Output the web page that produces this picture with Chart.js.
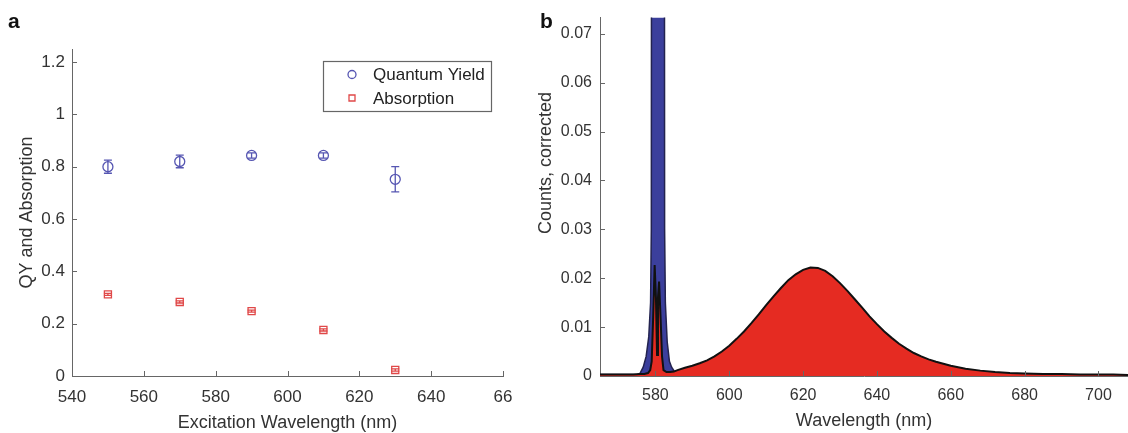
<!DOCTYPE html>
<html>
<head>
<meta charset="utf-8">
<script src="https://cdn.jsdelivr.net/npm/chart.js@4.4.0/dist/chart.umd.min.js"></script>
<style>
body { margin:0; background:#fff; width:1128px; height:433px; position:relative; overflow:hidden; font-family:"Liberation Sans", Arial, sans-serif; }
#chartA { position:absolute; left:0; top:0; }
#chartB { position:absolute; left:530px; top:0; }
.panel { position:absolute; font-weight:bold; font-size:21px; line-height:24px; color:#111; }
</style>
</head>
<body>
<canvas id="chartA" width="530" height="433"></canvas>
<canvas id="chartB" width="598" height="433"></canvas>
<div class="panel" style="left:8px; top:9px;">a</div>
<div class="panel" style="left:540px; top:9px;">b</div>
<script>
// panel a - quantum yield / absorption vs excitation wavelength
const excitation = [550, 570, 590, 610, 630];
const qy = [0.80, 0.82, 0.843, 0.843, 0.752];
const qyErr = [0.025, 0.024, 0.01, 0.01, 0.048];
const absorption = [0.312, 0.283, 0.248, 0.176, 0.023];
const absErr = [0.004, 0.004, 0.004, 0.004, 0.004];
const xTicksA = [540, 560, 580, 600, 620, 640, 660];
const xLabelsA = ["540", "560", "580", "600", "620", "640", "66"];
const yTicksA = [0, 0.2, 0.4, 0.6, 0.8, 1, 1.2];
const yLabelsA = ["0", "0.2", "0.4", "0.6", "0.8", "1", "1.2"];

// panel b - emission spectrum (sample, red) and excitation peak (blue)
const specWl = [565, 568, 571, 574, 576, 577, 578, 578.6, 579.0, 579.4, 579.8, 580.15, 580.45, 580.7, 581.0, 581.4, 581.8, 582.2, 583, 584, 585, 586, 588, 590, 592, 594, 596, 598, 600, 602, 604, 606, 608, 610, 612, 614, 616, 618, 620, 622, 624, 626, 628, 630, 632, 634, 636, 638, 640, 642, 644, 646, 648, 650, 652, 654, 656, 658, 660, 664, 668, 672, 676, 680, 685, 690, 695, 700, 704, 708];
const specCounts = [0.0003, 0.0003, 0.0003, 0.0003, 0.0004, 0.0004, 0.0006, 0.0012, 0.003, 0.012, 0.0227, 0.016, 0.0043, 0.016, 0.0193, 0.012, 0.004, 0.0012, 0.0008, 0.0008, 0.0009, 0.0012, 0.0017, 0.0021, 0.0026, 0.0032, 0.004, 0.005, 0.0062, 0.0076, 0.0091, 0.0108, 0.0126, 0.0145, 0.0163, 0.018, 0.0196, 0.0208, 0.0217, 0.0222, 0.0221, 0.0215, 0.0204, 0.019, 0.0174, 0.0157, 0.014, 0.0122, 0.0106, 0.0091, 0.0078, 0.0066, 0.0056, 0.0047, 0.004, 0.0034, 0.0029, 0.0025, 0.0021, 0.0015, 0.0011, 0.0008, 0.0006, 0.0005, 0.0004, 0.0004, 0.0003, 0.0003, 0.0003, 0.0002];
const refWl = [565, 575, 575.8, 576.7, 577.5, 578.2, 578.7, 578.9, 579.1, 582.3, 582.5, 582.7, 583.2, 583.8, 584.4, 585.3, 586, 708];
const refCounts = [0.0003, 0.0003, 0.0005, 0.0018, 0.004, 0.008, 0.015, 0.03, 0.3, 0.3, 0.03, 0.015, 0.007, 0.003, 0.0018, 0.0008, 0.0006, 0.0002];
const xTicksB = [580, 600, 620, 640, 660, 680, 700];
const yTicksB = [0, 0.01, 0.02, 0.03, 0.04, 0.05, 0.06, 0.07];

const qyColor = "#5656b2";
const absColor = "#e04848";
const axisColor = "#666";
const textColor = "#333";
const fontFam = "'Liberation Sans', Arial, sans-serif";

// ticks drawn inside the axes, like the original figure
const inwardTicks = {
    id: "inwardTicks",
    afterDatasetsDraw(chart, args, opts) {
        const {ctx, chartArea, scales} = chart;
        const len = opts.length || 5;
        ctx.save();
        ctx.strokeStyle = axisColor;
        ctx.lineWidth = 1;
        scales.x.ticks.forEach(t => {
            const px = Math.round(scales.x.getPixelForValue(t.value)) + 0.5;
            ctx.beginPath();
            ctx.moveTo(px, chartArea.bottom);
            ctx.lineTo(px, chartArea.bottom - len);
            ctx.stroke();
        });
        scales.y.ticks.forEach(t => {
            const py = Math.round(scales.y.getPixelForValue(t.value)) + 0.5;
            ctx.beginPath();
            ctx.moveTo(chartArea.left, py);
            ctx.lineTo(chartArea.left + len, py);
            ctx.stroke();
        });
        ctx.restore();
    }
};

const errorBars = {
    id: "errorBars",
    afterDatasetsDraw(chart) {
        const {ctx, scales: {x, y}} = chart;
        ctx.save();
        ctx.lineWidth = 1.3;
        [[qy, qyErr, qyColor], [absorption, absErr, absColor]].forEach(([vals, errs, col]) => {
            ctx.strokeStyle = col;
            excitation.forEach((w, i) => {
                const px = x.getPixelForValue(w);
                const top = y.getPixelForValue(vals[i] + errs[i]);
                const bot = y.getPixelForValue(vals[i] - errs[i]);
                ctx.beginPath();
                ctx.moveTo(px, top); ctx.lineTo(px, bot);
                ctx.moveTo(px - 4, top); ctx.lineTo(px + 4, top);
                ctx.moveTo(px - 4, bot); ctx.lineTo(px + 4, bot);
                ctx.stroke();
            });
        });
        ctx.restore();
    }
};

// boxed legend in the upper right of the axes
const boxLegend = {
    id: "boxLegend",
    afterDraw(chart, args, opts) {
        const {ctx, chartArea} = chart;
        const x = chartArea.right - opts.right - opts.width;
        const y = chartArea.top + opts.top;
        ctx.save();
        ctx.fillStyle = "#fff";
        ctx.fillRect(x, y, opts.width, opts.height);
        ctx.strokeStyle = "#666";
        ctx.lineWidth = 1.2;
        ctx.strokeRect(x + 0.5, y + 0.5, opts.width, opts.height);
        ctx.font = "17px " + fontFam;
        ctx.textBaseline = "middle";
        chart.data.datasets.forEach((ds, i) => {
            const cy = y + opts.rowTop + i * opts.rowGap;
            const cx = x + opts.markerX;
            ctx.strokeStyle = ds.borderColor;
            ctx.lineWidth = 1.3;
            ctx.beginPath();
            if (ds.pointStyle === "rect") {
                ctx.rect(cx - 3, cy - 3, 6, 6);
            } else {
                ctx.arc(cx, cy, 4, 0, Math.PI * 2);
            }
            ctx.stroke();
            ctx.fillStyle = "#222";
            ctx.fillText(ds.label, x + opts.textX, cy + 1);
        });
        ctx.restore();
    }
};

// y label of panel b sits higher than the axis middle in the original
const sideTitle = {
    id: "sideTitle",
    afterDraw(chart, args, opts) {
        const {ctx} = chart;
        ctx.save();
        ctx.translate(opts.x, opts.y);
        ctx.rotate(-Math.PI / 2);
        ctx.font = opts.size + "px " + fontFam;
        ctx.fillStyle = textColor;
        ctx.textAlign = "center";
        ctx.textBaseline = "middle";
        ctx.fillText(opts.text, 0, 0);
        ctx.restore();
    }
};

const chartA = new Chart(document.getElementById("chartA"), {
    type: "scatter",
    data: {
        datasets: [
            {
                label: "Quantum Yield",
                data: excitation.map((w, i) => ({x: w, y: qy[i]})),
                pointStyle: "circle",
                pointRadius: 5,
                borderColor: qyColor,
                backgroundColor: "rgba(0,0,0,0)",
                borderWidth: 1.3
            },
            {
                label: "Absorption",
                data: excitation.map((w, i) => ({x: w, y: absorption[i]})),
                pointStyle: "rect",
                pointRadius: 5,
                borderColor: absColor,
                backgroundColor: "rgba(0,0,0,0)",
                borderWidth: 1.3
            }
        ]
    },
    options: {
        responsive: false,
        animation: false,
        layout: {padding: {left: 0, top: 49, right: 27, bottom: 0}},
        plugins: {
            legend: {display: false},
            tooltip: {enabled: false},
            boxLegend: {right: 12, top: 12, width: 168, height: 50, rowTop: 13.5, rowGap: 23.5, markerX: 29, textX: 50}
        },
        scales: {
            x: {
                type: "linear",
                min: 540,
                max: 660,
                grid: {display: false, drawTicks: false},
                border: {display: true, color: axisColor, width: 1},
                afterBuildTicks: s => { s.ticks = xTicksA.map(v => ({value: v})); },
                afterFit: s => { s.height = 57; },
                ticks: {
                    autoSkip: false,
                    maxRotation: 0,
                    padding: 11,
                    color: textColor,
                    font: {family: fontFam, size: 17},
                    callback: (v, i) => xLabelsA[i]
                },
                title: {
                    display: true,
                    text: "Excitation Wavelength (nm)",
                    color: textColor,
                    font: {family: fontFam, size: 18},
                    padding: {top: 0, bottom: -1}
                }
            },
            y: {
                min: 0,
                max: 1.25,
                grid: {display: false, drawTicks: false},
                border: {display: true, color: axisColor, width: 1},
                afterBuildTicks: s => { s.ticks = yTicksA.map(v => ({value: v})); },
                afterFit: s => { s.width = 72; },
                ticks: {
                    padding: 7,
                    color: textColor,
                    font: {family: fontFam, size: 17},
                    callback: (v, i) => yLabelsA[i]
                },
                title: {
                    display: true,
                    text: "QY and Absorption",
                    color: textColor,
                    font: {family: fontFam, size: 18},
                    padding: {top: 16, bottom: 0}
                }
            }
        }
    },
    plugins: [errorBars, inwardTicks, boxLegend]
});

const chartB = new Chart(document.getElementById("chartB"), {
    type: "line",
    data: {
        datasets: [
            {
                label: "Sample",
                data: specWl.map((w, i) => ({x: w, y: specCounts[i]})),
                borderColor: "#111",
                borderWidth: 2,
                backgroundColor: "#e52b22",
                fill: "origin",
                pointRadius: 0,
                tension: 0
            },
            {
                label: "Reference",
                data: refWl.map((w, i) => ({x: w, y: refCounts[i]})),
                borderColor: "#23234f",
                borderWidth: 1.5,
                backgroundColor: "#3b3f9c",
                fill: "origin",
                pointRadius: 0,
                tension: 0
            }
        ]
    },
    options: {
        responsive: false,
        animation: false,
        layout: {padding: {left: 0, top: 17, right: 0, bottom: 0}},
        plugins: {
            legend: {display: false},
            tooltip: {enabled: false},
            sideTitle: {text: "Counts, corrected", x: 16, y: 163, size: 18}
        },
        scales: {
            x: {
                type: "linear",
                min: 565,
                max: 708,
                grid: {display: false, drawTicks: false},
                border: {display: true, color: axisColor, width: 1},
                afterBuildTicks: s => { s.ticks = xTicksB.map(v => ({value: v})); },
                afterFit: s => { s.height = 57; },
                ticks: {
                    autoSkip: false,
                    maxRotation: 0,
                    padding: 10,
                    color: textColor,
                    font: {family: fontFam, size: 16}
                },
                title: {
                    display: true,
                    text: "Wavelength (nm)",
                    color: textColor,
                    font: {family: fontFam, size: 18},
                    padding: {top: 0, bottom: 1}
                }
            },
            y: {
                min: 0,
                max: 0.0733,
                grid: {display: false, drawTicks: false},
                border: {display: true, color: axisColor, width: 1},
                afterBuildTicks: s => { s.ticks = yTicksB.map(v => ({value: v})); },
                afterFit: s => { s.width = 70; },
                ticks: {
                    padding: 8,
                    color: textColor,
                    font: {family: fontFam, size: 16},
                    callback: v => v === 0 ? "0" : v.toFixed(2)
                }
            }
        }
    },
    plugins: [inwardTicks, sideTitle]
});
</script>
</body>
</html>
